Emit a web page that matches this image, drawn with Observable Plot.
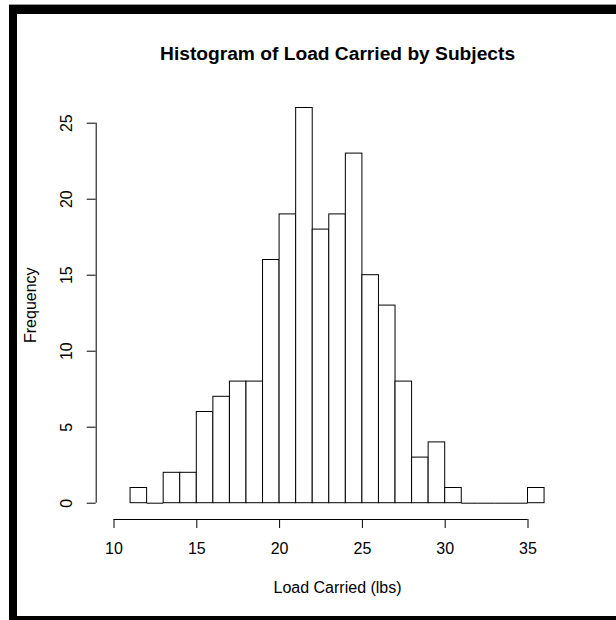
<!DOCTYPE html>
<html>
<head>
<meta charset="utf-8">
<script src="https://cdn.jsdelivr.net/npm/d3@7"></script>
<script src="https://cdn.jsdelivr.net/npm/@observablehq/plot@0.6"></script>
<style>
  html, body { margin: 0; padding: 0; background: #fff; }
  #page { position: relative; width: 616px; height: 620px; overflow: hidden; background: #fff; }
  #page svg { position: absolute; left: 0; top: 0; }
  .edge { position: absolute; background: #000; }
</style>
</head>
<body>
<div id="page">
  <div class="edge" style="left:9px; top:4px; width:607px; height:1px; background:#999;"></div>
  <div class="edge" style="left:9px; top:5px; width:8px; height:615px;"></div>
  <div class="edge" style="left:9px; top:5px; width:607px; height:9px;"></div>
  <div class="edge" style="left:9px; top:616px; width:607px; height:4px;"></div>
</div>
<script>
// Histogram bins (1 lb wide) and their counts
const binStarts = [11, 12, 13, 14, 15, 16, 17, 18, 19, 20, 21, 22, 23, 24, 25, 26, 27, 28, 29, 30, 31, 32, 33, 34, 35];
const counts    = [ 1,  0,  2,  2,  6,  7,  8,  8, 16, 19, 26, 18, 19, 23, 15, 13,  8,  3,  4,  1,  0,  0,  0,  0,  1];
const binWidth = 1;

const xTicks = [10, 15, 20, 25, 30, 35];
const yTicks = [0, 5, 10, 15, 20, 25];

const titleText = "Histogram of Load Carried by Subjects";
const xLabel = "Load Carried (lbs)";
const yLabel = "Frequency";

const bins = binStarts.map((s, i) => ({x1: s, x2: s + binWidth, count: counts[i]}));
const centerX = (binStarts[0] + binStarts[binStarts.length - 1] + binWidth) / 2;

const font = "'Liberation Sans', Arial, Helvetica, sans-serif";
const ink = "#000";

const chart = Plot.plot({
  width: 616,
  height: 620,
  marginLeft: 113.5,
  marginRight: 88.5,
  marginTop: 122.7,
  marginBottom: 117.3,
  style: {fontFamily: font, fontSize: "16px", color: ink, background: "transparent", overflow: "visible"},
  x: {domain: [10, 35]},
  y: {domain: [0, 25]},
  marks: [
    Plot.rect(bins.filter(d => d.count > 0), {
      x1: "x1", x2: "x2", y1: 0, y2: "count",
      fill: "#fff", stroke: ink, strokeWidth: 1
    }),
    // baseline segments for empty bins
    Plot.ruleY(bins.filter(d => d.count === 0), {x1: "x1", x2: "x2", y: 0, stroke: ink}),

    // x axis, offset below the bars
    Plot.ruleY([0], {x1: xTicks[0], x2: xTicks[xTicks.length - 1], dy: 16.3, stroke: ink}),
    Plot.axisX({ticks: xTicks, tickSize: 9, dy: 16.3, tickFormat: () => "", label: null, stroke: ink}),
    Plot.text(xTicks, {x: d => d, text: d => String(d), frameAnchor: "bottom", dy: 45.3,
      lineAnchor: "middle", fontSize: 16, fill: ink}),

    // y axis, offset left of the bars
    Plot.ruleX([xTicks[0]], {y1: yTicks[0], y2: yTicks[yTicks.length - 1], dx: -17.8, stroke: ink}),
    Plot.axisY({ticks: yTicks, tickSize: 9, dx: -17.8, tickFormat: () => "", label: null, stroke: ink}),
    Plot.text(yTicks, {y: d => d, text: d => String(d), frameAnchor: "left", dx: -47.5,
      rotate: -90, textAnchor: "middle", lineAnchor: "middle", fontSize: 16, fill: ink}),

    // titles
    Plot.text([titleText], {x: centerX, text: d => d, frameAnchor: "top", dy: -69.7,
      lineAnchor: "middle", fontSize: 19.2, fontWeight: "bold", fill: ink}),
    Plot.text([xLabel], {x: centerX, text: d => d, frameAnchor: "bottom", dy: 84.3,
      lineAnchor: "middle", fontSize: 16, fill: ink}),
    Plot.text([yLabel], {text: d => d, frameAnchor: "left", dx: -83.5, dy: -8,
      rotate: -90, textAnchor: "middle", lineAnchor: "middle", fontSize: 16, fill: ink})
  ]
});

document.getElementById("page").appendChild(chart);
</script>
</body>
</html>
